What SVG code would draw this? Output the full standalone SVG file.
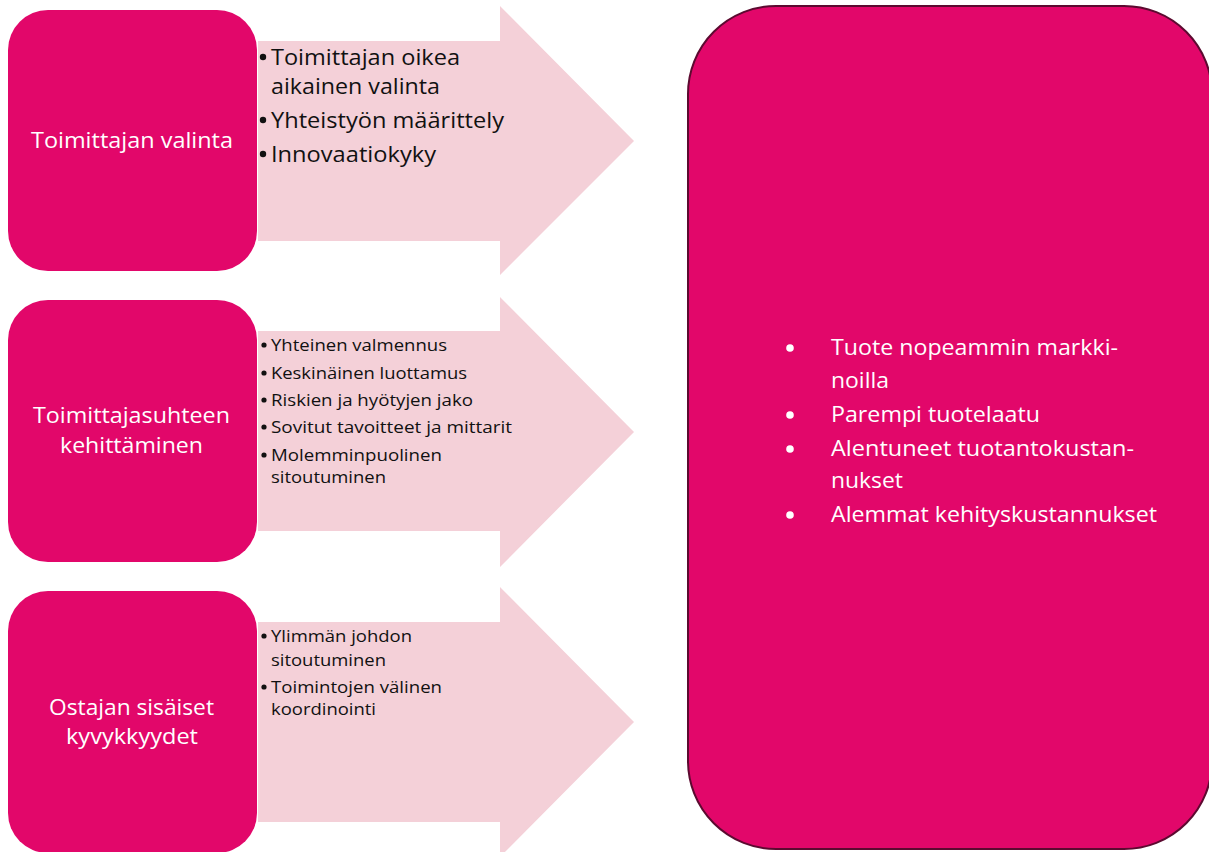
<svg xmlns="http://www.w3.org/2000/svg" width="1209" height="852" viewBox="0 0 1209 852">
<style>
.box{fill:#e2076a;}
.arrow{fill:#f4d0d8;}
.big{fill:#e2076a;stroke:#5c0a30;stroke-width:2;}
.w{fill:#ffffff;font-family:"Open Sans","Liberation Sans",sans-serif;}
.k{fill:#111111;font-family:"Open Sans","Liberation Sans",sans-serif;}
.l{font-size:22px;}
.s{font-size:17px;}
.kb{fill:#111111;}
.wb{fill:#ffffff;}
</style>
<rect width="1209" height="852" fill="#ffffff"/>
<g id="connectors">
<polygon class="arrow" points="258,41 500,41 500,6 634,141 500,275 500,241 258,241"/>
<polygon class="arrow" points="258,331 500,331 500,297 634,432 500,567 500,531 258,531"/>
<polygon class="arrow" points="258,622 500,622 500,587 634,722 500,857 500,822 258,822"/>
</g>
<g id="arrow1-text">
<circle class="kb" cx="263" cy="57" r="3.2"/>
<text class="k l" x="271" y="65" textLength="189" lengthAdjust="spacingAndGlyphs">Toimittajan oikea</text>
<text class="k l" x="271" y="94" textLength="169" lengthAdjust="spacingAndGlyphs">aikainen valinta</text>
<circle class="kb" cx="263" cy="120" r="3.2"/>
<text class="k l" x="271" y="128" textLength="233" lengthAdjust="spacingAndGlyphs">Yhteistyön määrittely</text>
<circle class="kb" cx="263" cy="154" r="3.2"/>
<text class="k l" x="271" y="162" textLength="165" lengthAdjust="spacingAndGlyphs">Innovaatiokyky</text>
</g>
<g id="arrow2-text">
<circle class="kb" cx="264" cy="345" r="2.6"/>
<text class="k s" x="271" y="351" textLength="176" lengthAdjust="spacingAndGlyphs">Yhteinen valmennus</text>
<circle class="kb" cx="264" cy="373" r="2.6"/>
<text class="k s" x="271" y="379" textLength="196" lengthAdjust="spacingAndGlyphs">Keskinäinen luottamus</text>
<circle class="kb" cx="264" cy="400" r="2.6"/>
<text class="k s" x="271" y="406" textLength="202" lengthAdjust="spacingAndGlyphs">Riskien ja hyötyjen jako</text>
<circle class="kb" cx="264" cy="427" r="2.6"/>
<text class="k s" x="271" y="433" textLength="241" lengthAdjust="spacingAndGlyphs">Sovitut tavoitteet ja mittarit</text>
<circle class="kb" cx="264" cy="455" r="2.6"/>
<text class="k s" x="271" y="461" textLength="171" lengthAdjust="spacingAndGlyphs">Molemminpuolinen</text>
<text class="k s" x="271" y="483" textLength="115" lengthAdjust="spacingAndGlyphs">sitoutuminen</text>
</g>
<g id="arrow3-text">
<circle class="kb" cx="264" cy="636" r="2.6"/>
<text class="k s" x="271" y="642" textLength="141" lengthAdjust="spacingAndGlyphs">Ylimmän johdon</text>
<text class="k s" x="271" y="666" textLength="115" lengthAdjust="spacingAndGlyphs">sitoutuminen</text>
<circle class="kb" cx="264" cy="687" r="2.6"/>
<text class="k s" x="271" y="693" textLength="171" lengthAdjust="spacingAndGlyphs">Toimintojen välinen</text>
<text class="k s" x="271" y="715" textLength="105" lengthAdjust="spacingAndGlyphs">koordinointi</text>
</g>
<g id="node-toimittajan-valinta">
<rect class="box" x="8" y="10" width="249" height="261" rx="40" ry="40"/>
<text class="w l" x="31" y="148" textLength="202" lengthAdjust="spacingAndGlyphs">Toimittajan valinta</text>
</g>
<g id="node-toimittajasuhteen-kehittaminen">
<rect class="box" x="8" y="300" width="249" height="262" rx="40" ry="40"/>
<text class="w l" x="33" y="423" textLength="197" lengthAdjust="spacingAndGlyphs">Toimittajasuhteen</text>
<text class="w l" x="60" y="453" textLength="143" lengthAdjust="spacingAndGlyphs">kehittäminen</text>
</g>
<g id="node-ostajan-sisaiset-kyvykkyydet">
<rect class="box" x="8" y="591" width="249" height="262" rx="40" ry="40"/>
<text class="w l" x="49" y="715" textLength="165" lengthAdjust="spacingAndGlyphs">Ostajan sisäiset</text>
<text class="w l" x="66" y="744" textLength="132" lengthAdjust="spacingAndGlyphs">kyvykkyydet</text>
</g>
<g id="node-tulokset">
<rect class="big" x="688" y="6" width="524" height="843" rx="88" ry="88"/>
<circle class="wb" cx="790" cy="348" r="3.8"/>
<text class="w l" x="831" y="355" textLength="287" lengthAdjust="spacingAndGlyphs">Tuote nopeammin markki-</text>
<text class="w l" x="831" y="388" textLength="58" lengthAdjust="spacingAndGlyphs">noilla</text>
<circle class="wb" cx="790" cy="415" r="3.8"/>
<text class="w l" x="831" y="422" textLength="209" lengthAdjust="spacingAndGlyphs">Parempi tuotelaatu</text>
<circle class="wb" cx="790" cy="449" r="3.8"/>
<text class="w l" x="831" y="456" textLength="303" lengthAdjust="spacingAndGlyphs">Alentuneet tuotantokustan-</text>
<text class="w l" x="831" y="488" textLength="72" lengthAdjust="spacingAndGlyphs">nukset</text>
<circle class="wb" cx="790" cy="515" r="3.8"/>
<text class="w l" x="831" y="522" textLength="326" lengthAdjust="spacingAndGlyphs">Alemmat kehityskustannukset</text>
</g>
</svg>
